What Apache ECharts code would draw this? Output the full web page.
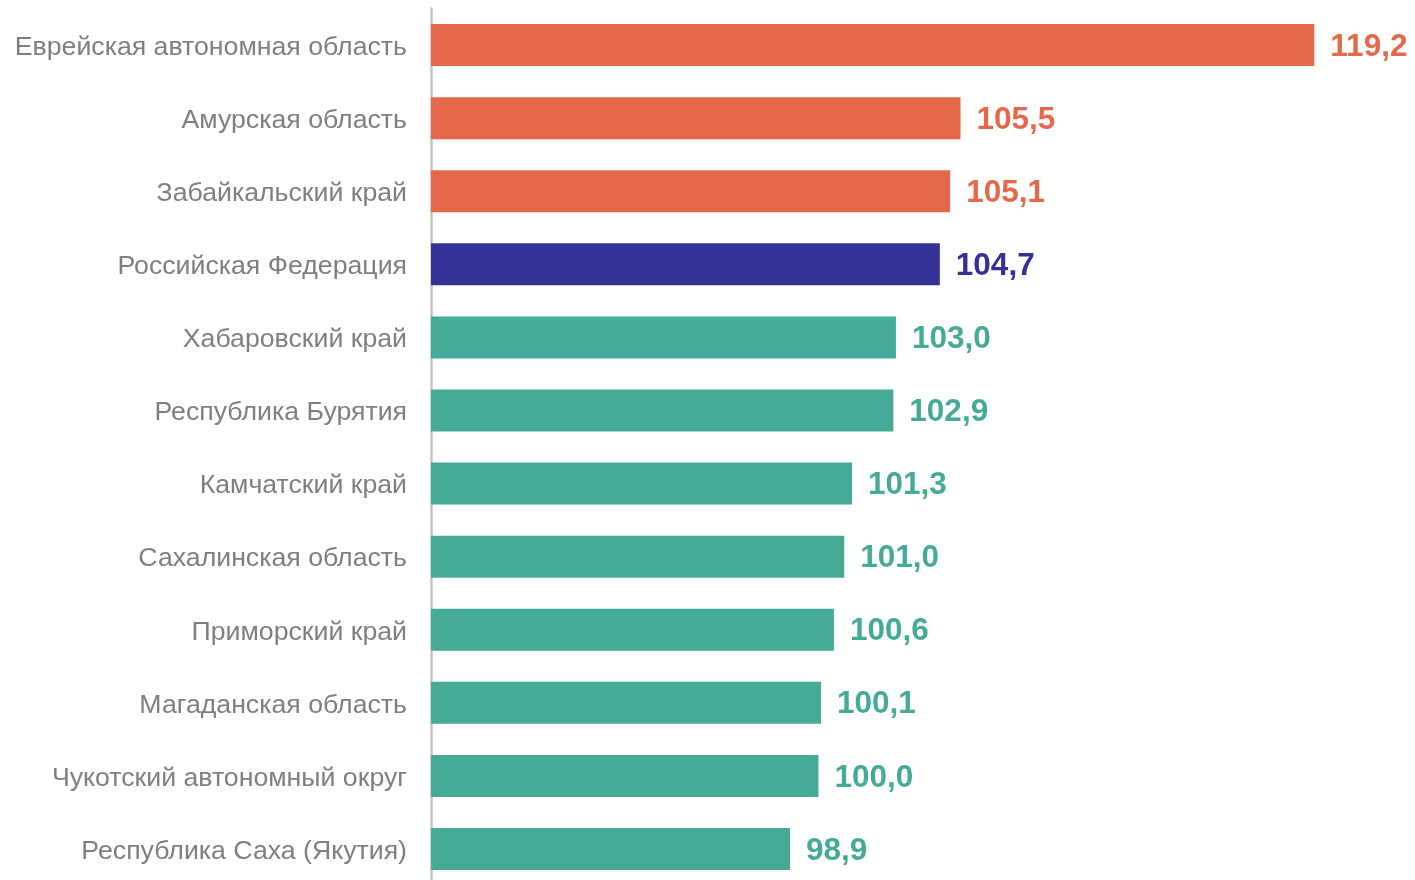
<!DOCTYPE html>
<html><head><meta charset="utf-8">
<script src="https://cdn.jsdelivr.net/npm/echarts@6/dist/echarts.min.js"></script>
<style>html,body{margin:0;padding:0;background:#fff;overflow:hidden}#c{width:1415px;height:892px}</style>
</head><body><div id="c"></div>
<script>
const categories = ["Еврейская автономная область","Амурская область","Забайкальский край","Российская Федерация","Хабаровский край","Республика Бурятия","Камчатский край","Сахалинская область","Приморский край","Магаданская область","Чукотский автономный округ","Республика Саха (Якутия)"];
const values = [119.2,105.5,105.1,104.7,103.0,102.9,101.3,101.0,100.6,100.1,100.0,98.9];
const groups = ["high","high","high","rf","low","low","low","low","low","low","low","low"];
const colors = {high:"#E4694A", rf:"#363194", low:"#45AA96"};
const FONT = "Liberation Sans";

const chart = echarts.init(document.getElementById('c'));
chart.setOption({
  animation:false,
  grid:{left:431, right:80, top:8.5, height:877, containLabel:false},
  xAxis:{type:'value', min:85, max:120, show:false},
  yAxis:{type:'category', data:categories, inverse:true,
    axisLine:{show:true, lineStyle:{color:'#C4C4C4', width:2.5}},
    axisTick:{show:false},
    axisLabel:{color:'#7F7F7F', fontSize:26.7, fontFamily:FONT, margin:24,
      formatter:v=>'{a|'+v+'}',
      rich:{a:{color:'#7F7F7F', fontSize:26.7, fontFamily:FONT, padding:[5,0,0,0]}}}
  },
  series:[{type:'bar', barWidth:42,
    data: values.map((v,i)=>({value:v, itemStyle:{color:colors[groups[i]]},
      label:{color:colors[groups[i]]}})),
    label:{show:true, position:'right', distance:16, fontSize:31.5, fontWeight:'bold',
      fontFamily:FONT, offset:[0,2],
      formatter:p=>p.value.toFixed(1).replace('.',',')}
  }]
});
</script></body></html>
